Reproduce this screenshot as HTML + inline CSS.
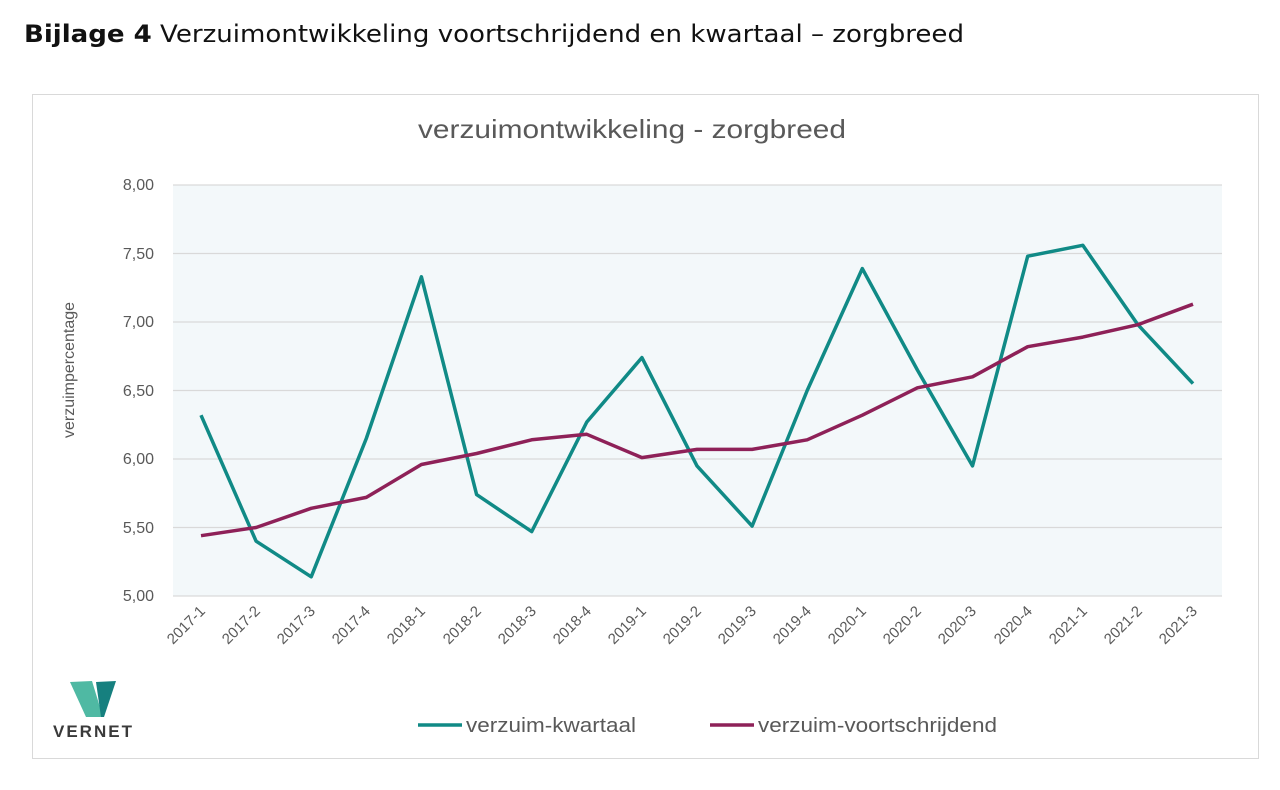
<!DOCTYPE html>
<html><head><meta charset="utf-8"><style>
body{margin:0;background:#fff;width:1280px;height:785px;overflow:hidden;font-family:"Liberation Sans",sans-serif}
</style></head><body>
<svg width="1280" height="785" xmlns="http://www.w3.org/2000/svg" font-family="Liberation Sans, sans-serif">
<text x="24" y="42" font-family="DejaVu Sans, sans-serif" font-size="24" fill="#111" textLength="940" lengthAdjust="spacingAndGlyphs"><tspan font-weight="bold">Bijlage 4</tspan>  Verzuimontwikkeling voortschrijdend en kwartaal – zorgbreed</text>
<rect x="32.5" y="94.5" width="1226" height="664" fill="#fff" stroke="#d9d9d9"/>
<text x="418" y="138" font-size="26" fill="#595959" textLength="428" lengthAdjust="spacingAndGlyphs">verzuimontwikkeling - zorgbreed</text>
<rect x="173" y="185" width="1049" height="411" fill="#f3f8fa"/>
<g stroke="#d9d9d9" stroke-width="1.3">
<line x1="173" x2="1222" y1="185" y2="185"/><line x1="173" x2="1222" y1="253.5" y2="253.5"/>
<line x1="173" x2="1222" y1="322" y2="322"/><line x1="173" x2="1222" y1="390.5" y2="390.5"/>
<line x1="173" x2="1222" y1="459" y2="459"/><line x1="173" x2="1222" y1="527.5" y2="527.5"/>
<line x1="173" x2="1222" y1="596" y2="596"/></g>
<g font-size="16" fill="#595959" text-anchor="end">
<text x="154" y="190">8,00</text><text x="154" y="259">7,50</text><text x="154" y="327">7,00</text>
<text x="154" y="396">6,50</text><text x="154" y="464">6,00</text><text x="154" y="533">5,50</text><text x="154" y="601">5,00</text></g>
<text transform="translate(74,370) rotate(-90)" text-anchor="middle" font-size="16" fill="#595959">verzuimpercentage</text>
<g font-size="15" fill="#595959" text-anchor="end">
<text transform="translate(206,612) rotate(-45)">2017-1</text>
<text transform="translate(261,612) rotate(-45)">2017-2</text>
<text transform="translate(316,612) rotate(-45)">2017-3</text>
<text transform="translate(371,612) rotate(-45)">2017-4</text>
<text transform="translate(426,612) rotate(-45)">2018-1</text>
<text transform="translate(482,612) rotate(-45)">2018-2</text>
<text transform="translate(537,612) rotate(-45)">2018-3</text>
<text transform="translate(592,612) rotate(-45)">2018-4</text>
<text transform="translate(647,612) rotate(-45)">2019-1</text>
<text transform="translate(702,612) rotate(-45)">2019-2</text>
<text transform="translate(757,612) rotate(-45)">2019-3</text>
<text transform="translate(812,612) rotate(-45)">2019-4</text>
<text transform="translate(867,612) rotate(-45)">2020-1</text>
<text transform="translate(922,612) rotate(-45)">2020-2</text>
<text transform="translate(977,612) rotate(-45)">2020-3</text>
<text transform="translate(1033,612) rotate(-45)">2020-4</text>
<text transform="translate(1088,612) rotate(-45)">2021-1</text>
<text transform="translate(1143,612) rotate(-45)">2021-2</text>
<text transform="translate(1198,612) rotate(-45)">2021-3</text></g>
<polyline fill="none" stroke="#108a86" stroke-width="3.5" stroke-linejoin="round" points="201,415.2 256.1,541.2 311.2,576.8 366.3,438.5 421.4,276.8 476.6,494.6 531.7,531.6 586.8,422 641.9,357.6 697,465.9 752.1,526.1 807.2,390.5 862.3,268.6 917.4,370 972.5,465.9 1027.7,256.2 1082.8,245.3 1137.9,324.7 1193,383.6"/>
<polyline fill="none" stroke="#8e2158" stroke-width="3.5" stroke-linejoin="round" points="201,535.7 256.1,527.5 311.2,508.3 366.3,497.4 421.4,464.5 476.6,453.5 531.7,439.8 586.8,434.3 641.9,457.6 697,449.4 752.1,449.4 807.2,439.8 862.3,415.2 917.4,387.8 972.5,376.8 1027.7,346.7 1082.8,337.1 1137.9,324.7 1193,304.2"/>
<line x1="418" x2="462" y1="725" y2="725" stroke="#108a86" stroke-width="3.5"/>
<text x="466" y="732" font-size="20" fill="#595959" textLength="170" lengthAdjust="spacingAndGlyphs">verzuim-kwartaal</text>
<line x1="710" x2="754" y1="725" y2="725" stroke="#8e2158" stroke-width="3.5"/>
<text x="758" y="732" font-size="20" fill="#595959" textLength="239" lengthAdjust="spacingAndGlyphs">verzuim-voortschrijdend</text>
<polygon points="70,682 92,681 103,717 86,717" fill="#4fb9a3"/>
<polygon points="96,682 116,681 104,717 101,717" fill="#16807f"/>
<text x="53" y="737" font-size="17" font-weight="bold" fill="#3a3a3a" letter-spacing="2">VERNET</text>
</svg>
</body></html>
